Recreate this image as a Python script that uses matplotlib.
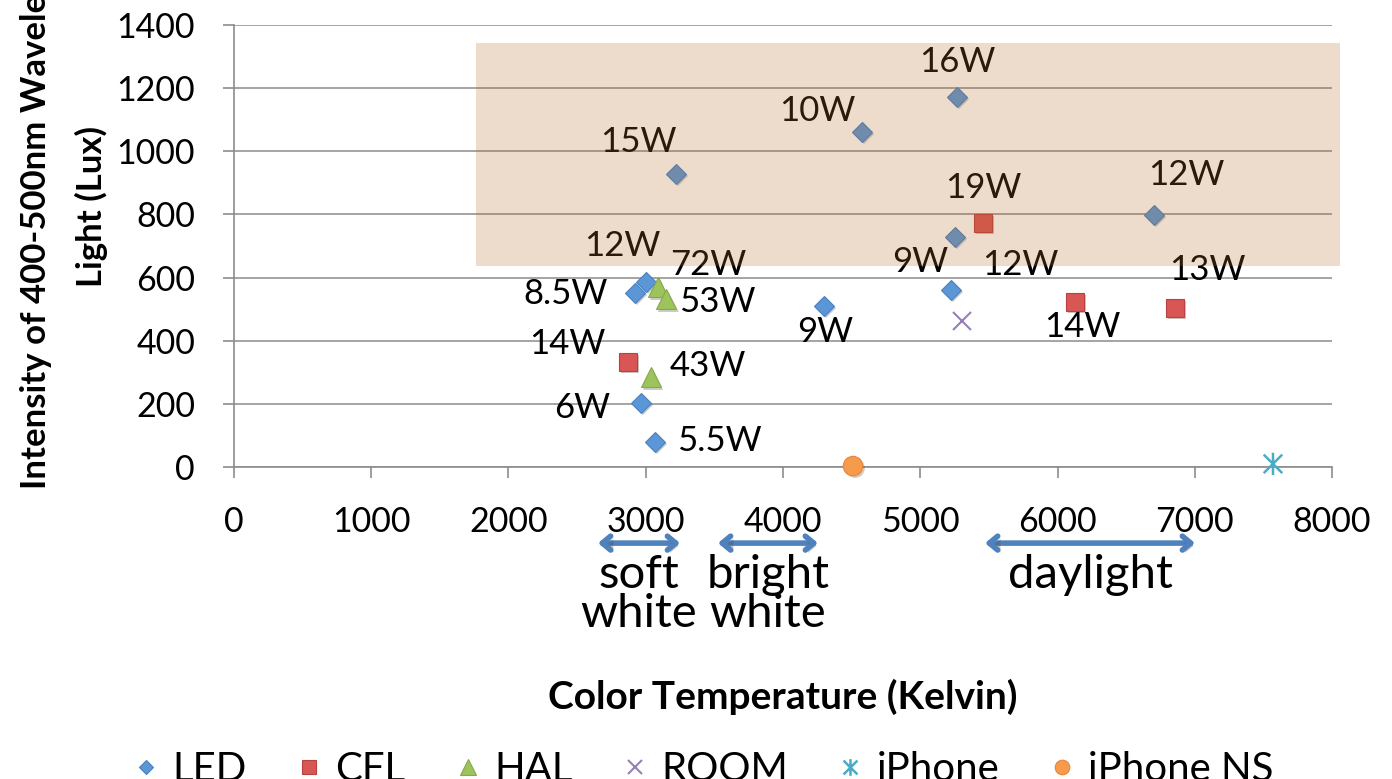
import matplotlib
matplotlib.use("Agg")
import matplotlib.pyplot as plt
import matplotlib.patheffects as pe
from matplotlib.lines import Line2D
from matplotlib.patches import Rectangle
from matplotlib.path import Path

# ---- data -------------------------------------------------------------
led_x = [5268, 4576, 3220, 6703, 5253, 5224, 4299, 3002, 2922, 2965, 3067]
led_y = [1172, 1061, 928, 798, 729, 561, 510, 586, 551, 203, 79]
led_labels = ["16W", "10W", "15W", "12W", "12W", "9W", "9W", "12W", "8.5W", "6W", "5.5W"]

cfl_x = [5457, 2871, 6128, 6856]
cfl_y = [773, 333, 523, 504]
cfl_labels = ["19W", "14W", "14W", "13W"]

hal_x = [3089, 3148, 3038]
hal_y = [570, 532, 285]
hal_labels = ["72W", "53W", "43W"]

room_x = [5304]
room_y = [462]

iphone_x = [7570]
iphone_y = [10]

iphone_ns_x = [4510]
iphone_ns_y = [3]

series_names = ["LED", "CFL", "HAL", "ROOM", "iPhone", "iPhone NS"]

x_ticks = [0, 1000, 2000, 3000, 4000, 5000, 6000, 7000, 8000]
y_ticks = [0, 200, 400, 600, 800, 1000, 1200, 1400]

# highlighted region (x0, x1, y0, y1)
band_x = [1763, 8058]
band_y = [637, 1343]

# colour-temperature ranges shown under the axis
range_names = ["soft\nwhite", "bright\nwhite", "daylight"]
range_start = [2652, 3526, 5472]
range_end = [3250, 4255, 7002]

# ---- label offsets (points) ----------------------------------------
led_off = [(0, 25), (-32, 15), (-27, 23), (23, 29), (47, -20), (-22, 20),
           (1, -19), (-17, 26), (-50, -1), (-42, -4), (46, 1)]
cfl_off = [(0, 25), (-44, 13), (5, -18), (23, 27)]
hal_off = [(36, 16), (37, -2), (41, 8)]

FONT = "Lato"
plt.rcParams["font.family"] = [FONT, "DejaVu Sans"]

fig = plt.figure(figsize=(13.92, 7.79), dpi=100)
ax = fig.add_axes([0.1681, 0.4005, 0.7888, 0.5674])

shadow = [pe.SimplePatchShadow(offset=(1.5, -1.5), alpha=0.25), pe.Normal()]

# asterisk made of an x and a vertical stroke
star = Path([(-0.5, -0.5), (0.5, 0.5), (-0.5, 0.5), (0.5, -0.5), (0, -0.6), (0, 0.6)],
            [Path.MOVETO, Path.LINETO, Path.MOVETO, Path.LINETO, Path.MOVETO, Path.LINETO])

styles = {
    "LED": dict(marker="D", ms=10, mfc="#5B97D6", mec="#4A80BE", mew=0.8),
    "CFL": dict(marker="s", ms=13, mfc="#D85653", mec="#B8423F", mew=0.8),
    "HAL": dict(marker="^", ms=15, mfc="#9DC35C", mec="#86A94A", mew=0.8),
    "ROOM": dict(marker="x", ms=13, mfc="none", mec="#9580B8", mew=1.5),
    "iPhone": dict(marker=star, ms=16, mfc="none", mec="#4BACC6", mew=1.8),
    "iPhone NS": dict(marker="o", ms=14, mfc="#F79A4C", mec="#E8863A", mew=0.8),
}

xs = [led_x, cfl_x, hal_x, room_x, iphone_x, iphone_ns_x]
ys = [led_y, cfl_y, hal_y, room_y, iphone_y, iphone_ns_y]
for name, x, y in zip(series_names, xs, ys):
    ax.plot(x, y, ls="none", zorder=3, path_effects=shadow, clip_on=False,
            **styles[name])

label_fs = 25
for xv, yv, lab, off in zip(led_x + cfl_x + hal_x,
                            led_y + cfl_y + hal_y,
                            led_labels + cfl_labels + hal_labels,
                            led_off + cfl_off + hal_off):
    ax.annotate(lab, (xv, yv), xytext=off, textcoords="offset points",
                ha="center", va="center", fontsize=label_fs, color="black",
                zorder=4, annotation_clip=False)

# translucent highlight band drawn over marks and labels
ax.add_patch(Rectangle((band_x[0], band_y[0]), band_x[1] - band_x[0],
                       band_y[1] - band_y[0], facecolor="#B4692D", alpha=0.24,
                       edgecolor="none", zorder=6, clip_on=False))

ax.set_xlim(0, 8000)
ax.set_ylim(0, 1400)
ax.set_xticks(x_ticks)
ax.set_yticks(y_ticks)
ax.tick_params(axis="both", labelsize=24.5, length=8, width=1.2, color="#8C8C8C",
               direction="out")
ax.tick_params(axis="y", pad=20)
ax.tick_params(axis="x", pad=20)
ax.yaxis.grid(True, color="#8C8C8C", lw=1.1)
ax.set_axisbelow(True)
for s in ["top", "right"]:
    ax.spines[s].set_visible(False)
for s in ["left", "bottom"]:
    ax.spines[s].set_color("#8C8C8C")
    ax.spines[s].set_linewidth(1.2)

# range arrows and names under the axis
arrow_y = -241
for nm, x0, x1 in zip(range_names, range_start, range_end):
    ax.annotate("", xy=(x1, arrow_y), xytext=(x0, arrow_y),
                arrowprops=dict(arrowstyle="<->,head_length=0.6,head_width=0.5",
                                color="#4F81BD", lw=4, shrinkA=0, shrinkB=0,
                                path_effects=[pe.SimplePatchShadow(offset=(2, -2), alpha=0.3),
                                              pe.Normal()]),
                annotation_clip=False)
    ax.text((x0 + x1) / 2, -274, nm, ha="center", va="top",
            fontsize=34, linespacing=0.93, clip_on=False)

ax.set_xlabel("Color Temperature (Kelvin)", fontsize=28, fontweight="bold")
ax.xaxis.label.set_va("center")
ax.xaxis.set_label_coords(0.5, -0.52)

fig.text(0.046, 0.735, "Intensity of 400-500nm Wavelength\nLight (Lux)",
         rotation=90, ha="center", va="center", multialignment="center",
         fontsize=25, fontweight="bold", linespacing=1.85,
         family=["Liberation Sans Narrow", FONT, "DejaVu Sans"])

handles = [Line2D([], [], ls="none", **{**styles[n], "ms": styles[n]["ms"] * 0.75})
           for n in series_names]
fig.legend(handles, series_names, loc="center", bbox_to_anchor=(0.5057, 0.012),
           ncol=6, frameon=False, fontsize=29, handlelength=0.6,
           handletextpad=0.35, columnspacing=1.25)

fig.savefig("out.png", dpi=100)
